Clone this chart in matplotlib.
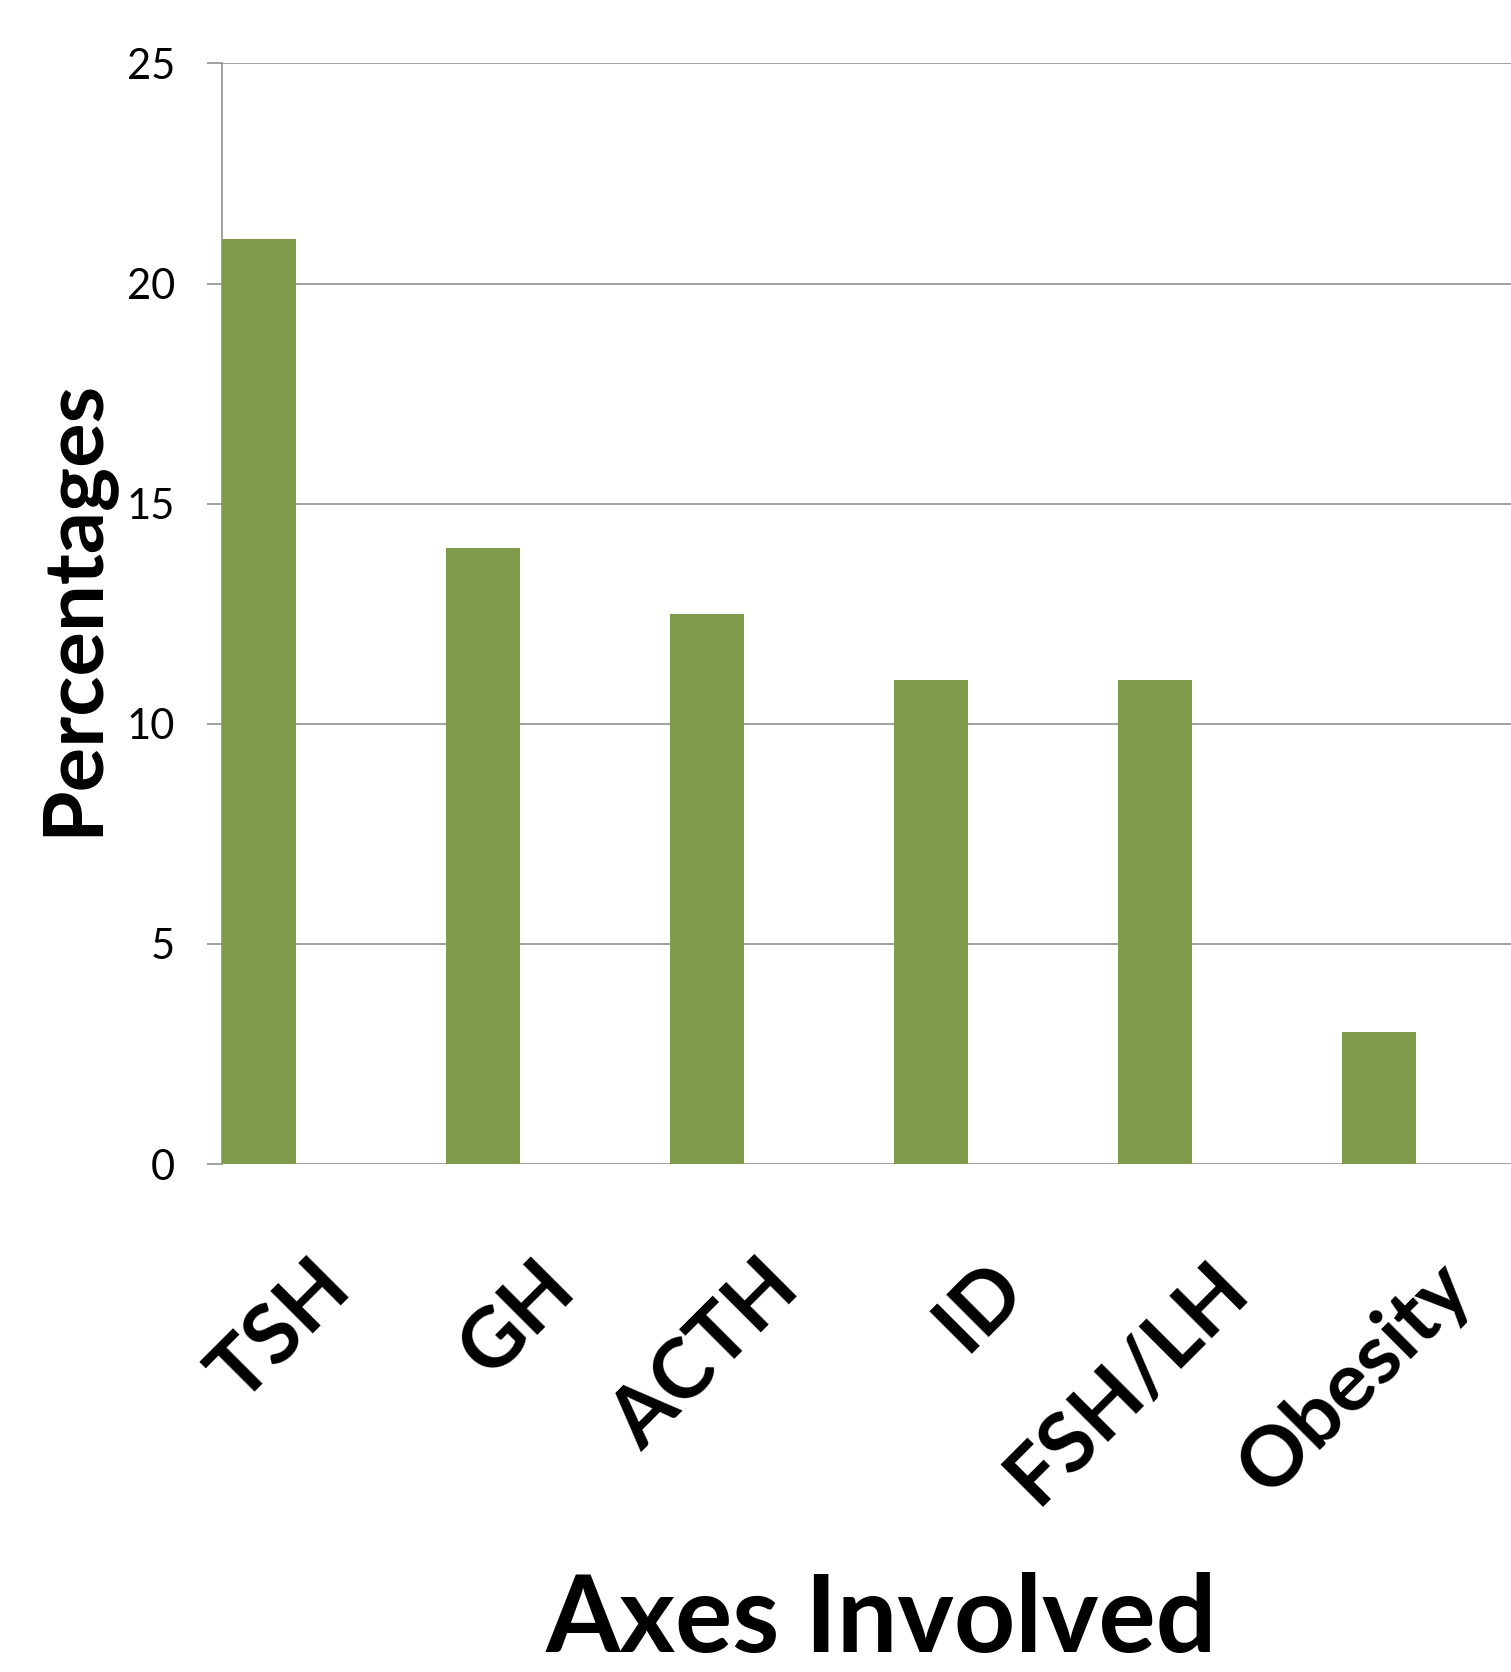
import matplotlib
matplotlib.use('Agg')
import matplotlib.pyplot as plt
import numpy as np

categories = ['TSH', 'GH', 'ACTH', 'ID', 'FSH/LH', 'Obesity']
percentages = [21, 14, 12.5, 11, 11, 3]
y_ticks = [0, 5, 10, 15, 20, 25]

c_bar = '#7F9B4A'
c_grid = '#878787'

plt.rcParams['font.family'] = ['Lato', 'DejaVu Sans']

fig = plt.figure(figsize=(15.11, 16.72), dpi=100)
ax = fig.add_axes([0.1469, 0.3038, 0.8531, 0.6583])

x = np.arange(len(categories))
ax.bar(x, percentages, width=0.33, align='edge', color=c_bar, zorder=3)

ax.set_xlim(0, 1289 / 224)
ax.set_ylim(0, 25)
ax.set_yticks(y_ticks)
ax.set_yticklabels([str(v) for v in y_ticks], fontsize=30)
ax.grid(axis='y', color=c_grid, linewidth=1.1, zorder=0)

for side in ['top', 'right', 'bottom']:
    ax.spines[side].set_visible(False)
ax.spines['left'].set_color(c_grid)
ax.spines['left'].set_linewidth(1.1)
ax.tick_params(axis='y', length=10.8, width=1.1, color=c_grid, pad=23, labelcolor='black')

ax.set_xticks(x + 0.52)
ax.set_xticklabels(categories, fontsize=60, fontweight='bold')
ax.tick_params(axis='x', length=0, pad=80)
plt.setp(ax.get_xticklabels(), rotation=45, ha='right', va='center', rotation_mode='anchor')

fig.text(0.049, 0.6365, 'Percentages', rotation=90, ha='center', va='center',
         fontsize=60, fontweight='bold')
# x-axis title sits right at the bottom edge
fig.text(0.583, 0.001, 'Axes Involved', ha='center', va='bottom',
         fontsize=77, fontweight='bold')

fig.savefig('out.png', dpi=100)
